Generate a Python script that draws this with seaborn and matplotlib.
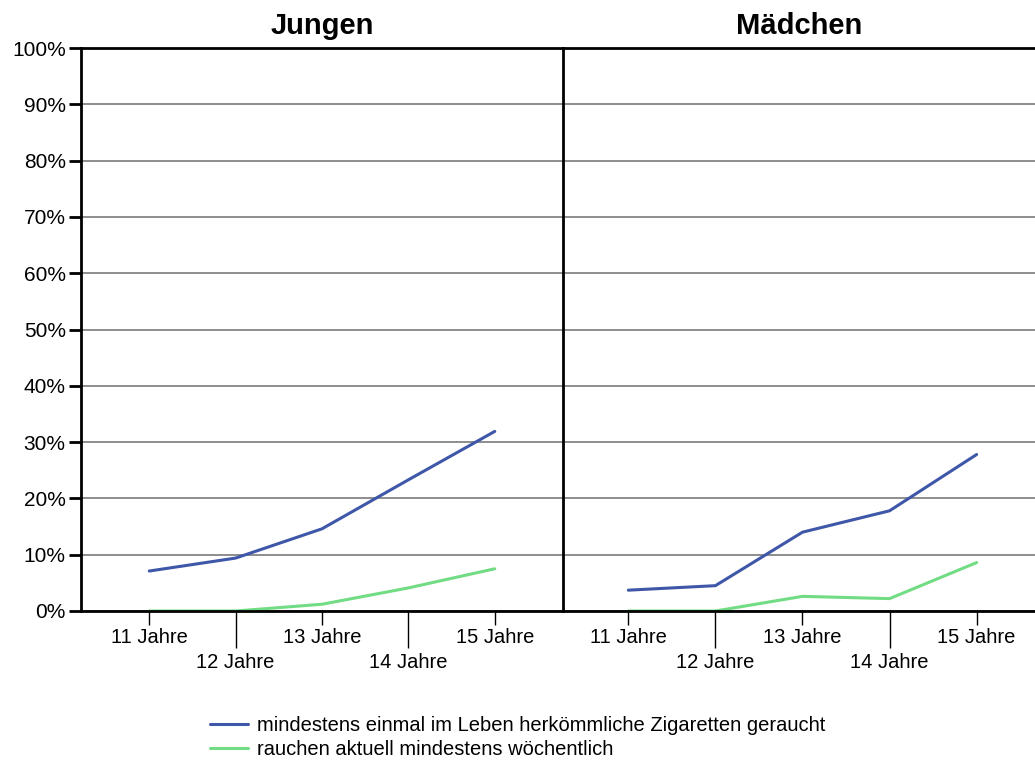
import matplotlib
matplotlib.use("Agg")
import matplotlib.pyplot as plt
import seaborn as sns
import pandas as pd
import numpy as np

# ---- data ----
ages = ["11 Jahre", "12 Jahre", "13 Jahre", "14 Jahre", "15 Jahre"]
panels = ["Jungen", "Mädchen"]
series_names = ["mindestens einmal im Leben herkömmliche Zigaretten geraucht",
                "rauchen aktuell mindestens wöchentlich"]
jungen_ever = [7.1, 9.4, 14.6, 23.3, 31.9]
jungen_weekly = [0.0, 0.0, 1.2, 4.1, 7.5]
maedchen_ever = [3.7, 4.5, 14.0, 17.8, 27.8]
maedchen_weekly = [0.0, 0.0, 2.6, 2.2, 8.6]
yticks = [0, 10, 20, 30, 40, 50, 60, 70, 80, 90, 100]

colors = ["#3F57A8", "#72DC84"]

rows = []
for panel, ever, weekly in [("Jungen", jungen_ever, jungen_weekly),
                            ("Mädchen", maedchen_ever, maedchen_weekly)]:
    for i, a in enumerate(ages):
        rows.append(dict(panel=panel, pos=i, age=a, series=series_names[0], value=ever[i]))
        rows.append(dict(panel=panel, pos=i, age=a, series=series_names[1], value=weekly[i]))
df = pd.DataFrame(rows)

sns.set_theme(style="white")
plt.rcParams['font.family'] = ['Liberation Sans', 'DejaVu Sans']
plt.rcParams['text.color'] = 'black'
plt.rcParams['xtick.color'] = 'black'
plt.rcParams['ytick.color'] = 'black'
plt.rcParams['axes.labelcolor'] = 'black'

fig = plt.figure(figsize=(10.35, 7.6), dpi=100)
W, H = 1035, 760
bottom = 1 - 611 / H
height = (611 - 48) / H
ax1 = fig.add_axes([81 / W, bottom, (563 - 81) / W, height])
ax2 = fig.add_axes([563 / W, bottom, (1035 - 563) / W, height])

for k, (ax, panel) in enumerate(zip([ax1, ax2], panels)):
    sub = df[df.panel == panel]
    sns.lineplot(data=sub, x="pos", y="value", hue="series", hue_order=series_names,
                 palette=colors, linewidth=2.2, ax=ax, legend=False)
    ax.set_ylim(0, 100)
    if k == 0:
        ax.set_xlim(-0.79, 4.79)
    else:
        ax.set_xlim(-0.75, 4.67)
    ax.set_yticks(yticks)
    ax.yaxis.grid(True, color="#7a7a7a", linewidth=1.2)
    ax.set_axisbelow(True)
    ax.set_xlabel("")
    ax.set_ylabel("")
    for s in ["top", "bottom", "left"]:
        ax.spines[s].set_visible(True)
        ax.spines[s].set_color("black")
        ax.spines[s].set_linewidth(2)
    ax.spines["right"].set_visible(False)
    ax.set_title(panel, fontsize=21, fontweight="bold", pad=10, color="black")
    ax.set_xticks(range(len(ages)))
    ax.set_xticklabels(ages, fontsize=14.5, color="black")
    ax.tick_params(axis="x", bottom=True, length=10, width=1, color="black", pad=2.0)
    if k == 0:
        ax.set_yticklabels([f"{v}%" for v in yticks], fontsize=15, color="black")
        ax.tick_params(axis="y", left=True, length=9, width=2, color="black", pad=2)
    else:
        ax.tick_params(axis="y", left=False, labelleft=False)
    for i, t in enumerate(ax.xaxis.get_major_ticks()):
        if i % 2 == 1:
            t.set_pad(20.0)
            t.tick1line.set_markersize(26.5)

handles = [plt.Line2D([], [], color=c, linewidth=2.2) for c in colors]
fig.legend(handles, series_names, loc="upper left", bbox_to_anchor=(210 / W, 1 - 716 / H),
           frameon=False, fontsize=14.5, handlelength=1.9, handletextpad=0.45,
           labelspacing=0.25, borderaxespad=0, borderpad=0)

fig.savefig("out.png", dpi=100)
